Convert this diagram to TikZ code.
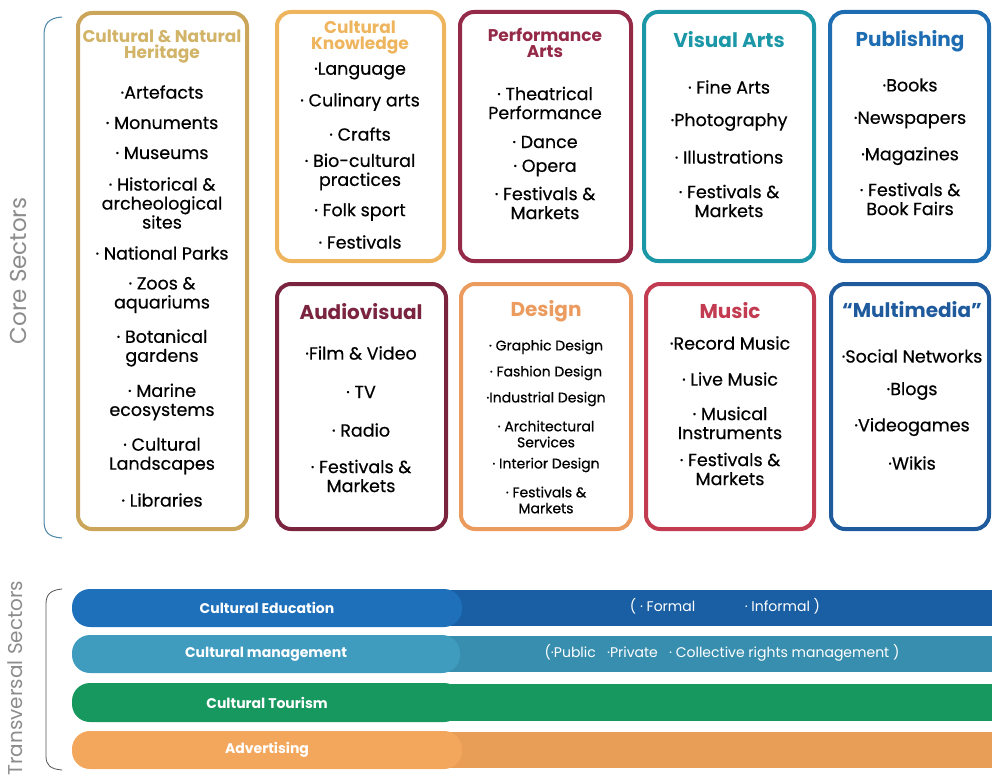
\documentclass[tikz,border=0pt]{standalone}
\usepackage{fontspec}
\setmainfont{Poppins}
\newfontfamily\itemfont{Poppins}[FakeBold=0.5]
\definecolor{heritage}{HTML}{CBA65A}
\definecolor{heritagetxt}{HTML}{D2B469}
\definecolor{knowledge}{HTML}{EEB55E}
\definecolor{performance}{HTML}{952A48}
\definecolor{visual}{HTML}{1B97A7}
\definecolor{publishing}{HTML}{1E6CB2}
\definecolor{audiovisual}{HTML}{7A2440}
\definecolor{design}{HTML}{EC9B5E}
\definecolor{music}{HTML}{C23B50}
\definecolor{multimedia}{HTML}{1E5A9C}
\definecolor{edu}{HTML}{1E70BA}
\definecolor{edudark}{HTML}{1A5FA3}
\definecolor{mgmt}{HTML}{3F9CBF}
\definecolor{mgmtdark}{HTML}{388EAE}
\definecolor{tourism}{HTML}{17985F}
\definecolor{advert}{HTML}{F3A75C}
\definecolor{advertdark}{HTML}{E99E57}
\definecolor{sidetext}{HTML}{8C8C8C}
\definecolor{corebrace}{HTML}{4C86A6}
\definecolor{transbrace}{HTML}{555555}
\begin{document}
\begin{tikzpicture}[x=1pt, y=-1pt,
	box/.style={rounded corners=14pt, line width=4pt},
	head/.style={font=\bfseries\fontsize{20}{20}\selectfont, align=center},
	smallhead/.style={font=\bfseries\fontsize{17}{16}\selectfont, align=center},
	item/.style={font=\itemfont\fontsize{17.5}{19}\selectfont, align=center, inner sep=0pt},
	smallitem/.style={font=\itemfont\fontsize{14}{16}\selectfont, align=center, inner sep=0pt},
	bar/.style={rounded corners=18pt},
	barlabel/.style={text=white, font=\bfseries\fontsize{14}{14}\selectfont},
	barnote/.style={text=white, font=\fontsize{14}{14}\selectfont},
	side/.style={rotate=90, text=sidetext}]
	\useasboundingbox (0,0) rectangle (992,778);

	% core sectors, top row
	\draw[box, heritage] (78,13) rectangle (247,529);
	\node[smallhead, text=heritagetxt] (heritage) at (162,47) {Cultural \& Natural\\Heritage};
	\foreach \y/\t [count=\i] in {92/·Artefacts, 123/· Monuments, 153/· Museums,
		203/{· Historical \&\\archeological\\sites}, 253/· National Parks,
		295/{· Zoos \&\\aquariums}, 348/{· Botanical\\gardens}, 402/{· Marine\\ecosystems},
		456/{· Cultural\\Landscapes}, 500/· Libraries}
		\node[item] (heritage-\i) at (162,\y) {\t};

	\draw[box, knowledge] (277,12) rectangle (444,261);
	\node[smallhead, text=knowledge] (knowledge) at (360,38) {Cultural\\Knowledge};
	\foreach \y/\t [count=\i] in {71/·Language, 102/· Culinary arts, 134/· Crafts,
		172/{· Bio-cultural\\practices}, 212/· Folk sport, 242/· Festivals}
		\node[item] (knowledge-\i) at (360,\y) {\t};

	\draw[box, performance] (460,12) rectangle (631,261);
	\node[smallhead, text=performance] (performance) at (545,43) {Performance\\Arts};
	\foreach \y/\t [count=\i] in {103/{· Theatrical\\Performance}, 142/· Dance, 168/· Opera,
		203/{· Festivals \&\\Markets}}
		\node[item] (performance-\i) at (545,\y) {\t};

	\draw[box, visual] (644,12) rectangle (814,261);
	\node[head, text=visual] (visual) at (729,40) {Visual Arts};
	\foreach \y/\t [count=\i] in {87/· Fine Arts, 122/·Photography, 157/· Illustrations,
		201/{· Festivals \&\\Markets}}
		\node[item] (visual-\i) at (729,\y) {\t};

	\draw[box, publishing] (830,12) rectangle (989,261);
	\node[head, text=publishing] (publishing) at (910,41) {Publishing};
	\foreach \y/\t [count=\i] in {85/·Books, 120/·Newspapers, 156/·Magazines,
		199/{· Festivals \&\\Book Fairs}}
		\node[item] (publishing-\i) at (910,\y) {\t};

	% core sectors, bottom row
	\draw[box, audiovisual] (277,284) rectangle (446,529);
	\node[head, text=audiovisual] (audiovisual) at (361,312) {Audiovisual};
	\foreach \y/\t [count=\i] in {353/·Film \& Video, 392/· TV, 430/· Radio,
		476/{· Festivals \&\\Markets}}
		\node[item] (audiovisual-\i) at (361,\y) {\t};

	\draw[box, design] (461,284) rectangle (631,529);
	\node[head, text=design] (design) at (546,311) {Design};
	\foreach \y/\t [count=\i] in {347/· Graphic Design, 373/· Fashion Design,
		399/·Industrial Design, 434/{· Architectural\\Services}, 465/· Interior Design,
		500/{· Festivals \&\\Markets}}
		\node[smallitem] (design-\i) at (546,\y) {\t};

	\draw[box, music] (646,284) rectangle (814,529);
	\node[head, text=music] (music) at (730,311) {Music};
	\foreach \y/\t [count=\i] in {343/·Record Music, 379/· Live Music,
		423/{· Musical\\Instruments}, 469/{· Festivals \&\\Markets}}
		\node[item] (music-\i) at (730,\y) {\t};

	\draw[box, multimedia] (831,284) rectangle (989,529);
	\node[head, text=multimedia] (multimedia) at (912,310) {“Multimedia”};
	\foreach \y/\t [count=\i] in {356/·Social Networks, 391/·Blogs, 427/·Videogames,
		463/·Wikis}
		\node[item] (multimedia-\i) at (912,\y) {\t};

	% brackets and side labels
	\draw[corebrace, line width=1pt] (62,17) .. controls (48,18) and (44,24) .. (44,36)
		-- (44,520) .. controls (44,532) and (48,537) .. (62,538);
	\node[side, font=\fontsize{23}{23}\selectfont] (core) at (18,271) {Core Sectors};
	\draw[transbrace, line width=0.8pt] (62,589) .. controls (50,590) and (46,595) .. (46,604)
		-- (46,756) .. controls (46,765) and (50,769) .. (62,770);
	\node[side, font=\fontsize{20}{20}\selectfont] (transversal) at (15,678) {Transversal Sectors};

	% transversal sectors
	\fill[edudark] (440,590) rectangle (992,626);
	\fill[edu, bar] (72,589) rectangle (462,627) node[pos=.5, barlabel] (edu) {Cultural Education};
	\node[barnote] (edu-note) at (725,606) {( · Formal \hspace{3em} · Informal )};

	\fill[mgmtdark] (440,636) rectangle (992,672);
	\fill[mgmt, bar] (72,635) rectangle (460,673) node[pos=.5, barlabel] (mgmt) {Cultural management};
	\node[barnote] (mgmt-note) at (722,653) {(·Public \ \ ·Private \ \ · Collective rights management )};

	\fill[tourism] (440,684) rectangle (992,721);
	\fill[tourism, bar] (72,683) rectangle (462,722) node[pos=.5, barlabel] (tourism) {Cultural Tourism};

	\fill[advertdark] (440,732) rectangle (992,768);
	\fill[advert, bar] (72,731) rectangle (462,769) node[pos=.5, barlabel] (advert) {Advertising};
\end{tikzpicture}
\end{document}
